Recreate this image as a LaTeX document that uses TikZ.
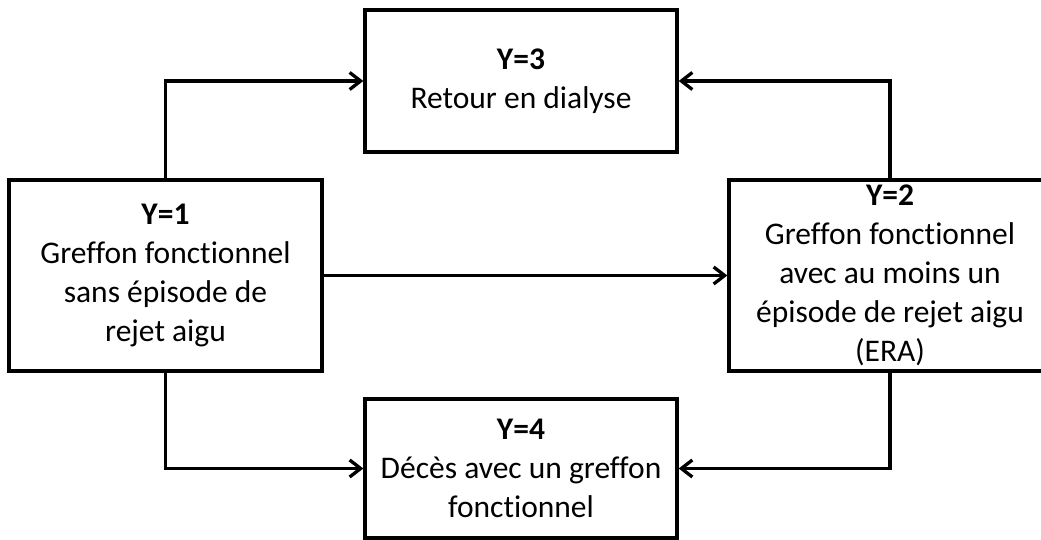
\documentclass[tikz,border=0pt]{standalone}
\usepackage{fontspec}
\setmainfont[Ligatures=NoCommon]{Carlito}
\usetikzlibrary{arrows.meta}
\begin{document}
\begin{tikzpicture}[x=1pt,y=1pt,
  box/.style={draw, line width=3.3pt, rectangle, inner sep=0pt, align=center,
    font=\fontsize{31.5}{39}\selectfont},
  conn/.style={line width=3.3pt, -{Straight Barb[length=11pt,width=17pt,line width=3.3pt]}}]
\useasboundingbox (0,0) rectangle (1041,540);
\node[box, minimum width=312pt, minimum height=142pt] (y3) at (521,459)
  {\textbf{Y=3}\\Retour en dialyse};
\node[box, minimum width=312pt, minimum height=139pt] (y4) at (521,71.5)
  {\textbf{Y=4}\\Décès avec un greffon\\fonctionnel};
\node[box, minimum width=313pt, minimum height=191pt] (y1) at (165.5,264.5)
  {\textbf{Y=1}\\Greffon fonctionnel\\sans épisode de\\rejet aigu};
\node[box, minimum width=322pt, minimum height=191pt] (y2) at (890,264.5)
  {\textbf{Y=2}\\Greffon fonctionnel\\avec au moins un\\épisode de rejet aigu\\(ERA)};
\draw[conn] (y1.north) |- (y3.west);
\draw[conn] (y2.north) |- (y3.east);
\draw[conn] (y1.south) |- (y4.west);
\draw[conn] (y2.south) |- (y4.east);
\draw[conn] (y1.east) -- (y2.west);
\end{tikzpicture}
\end{document}
